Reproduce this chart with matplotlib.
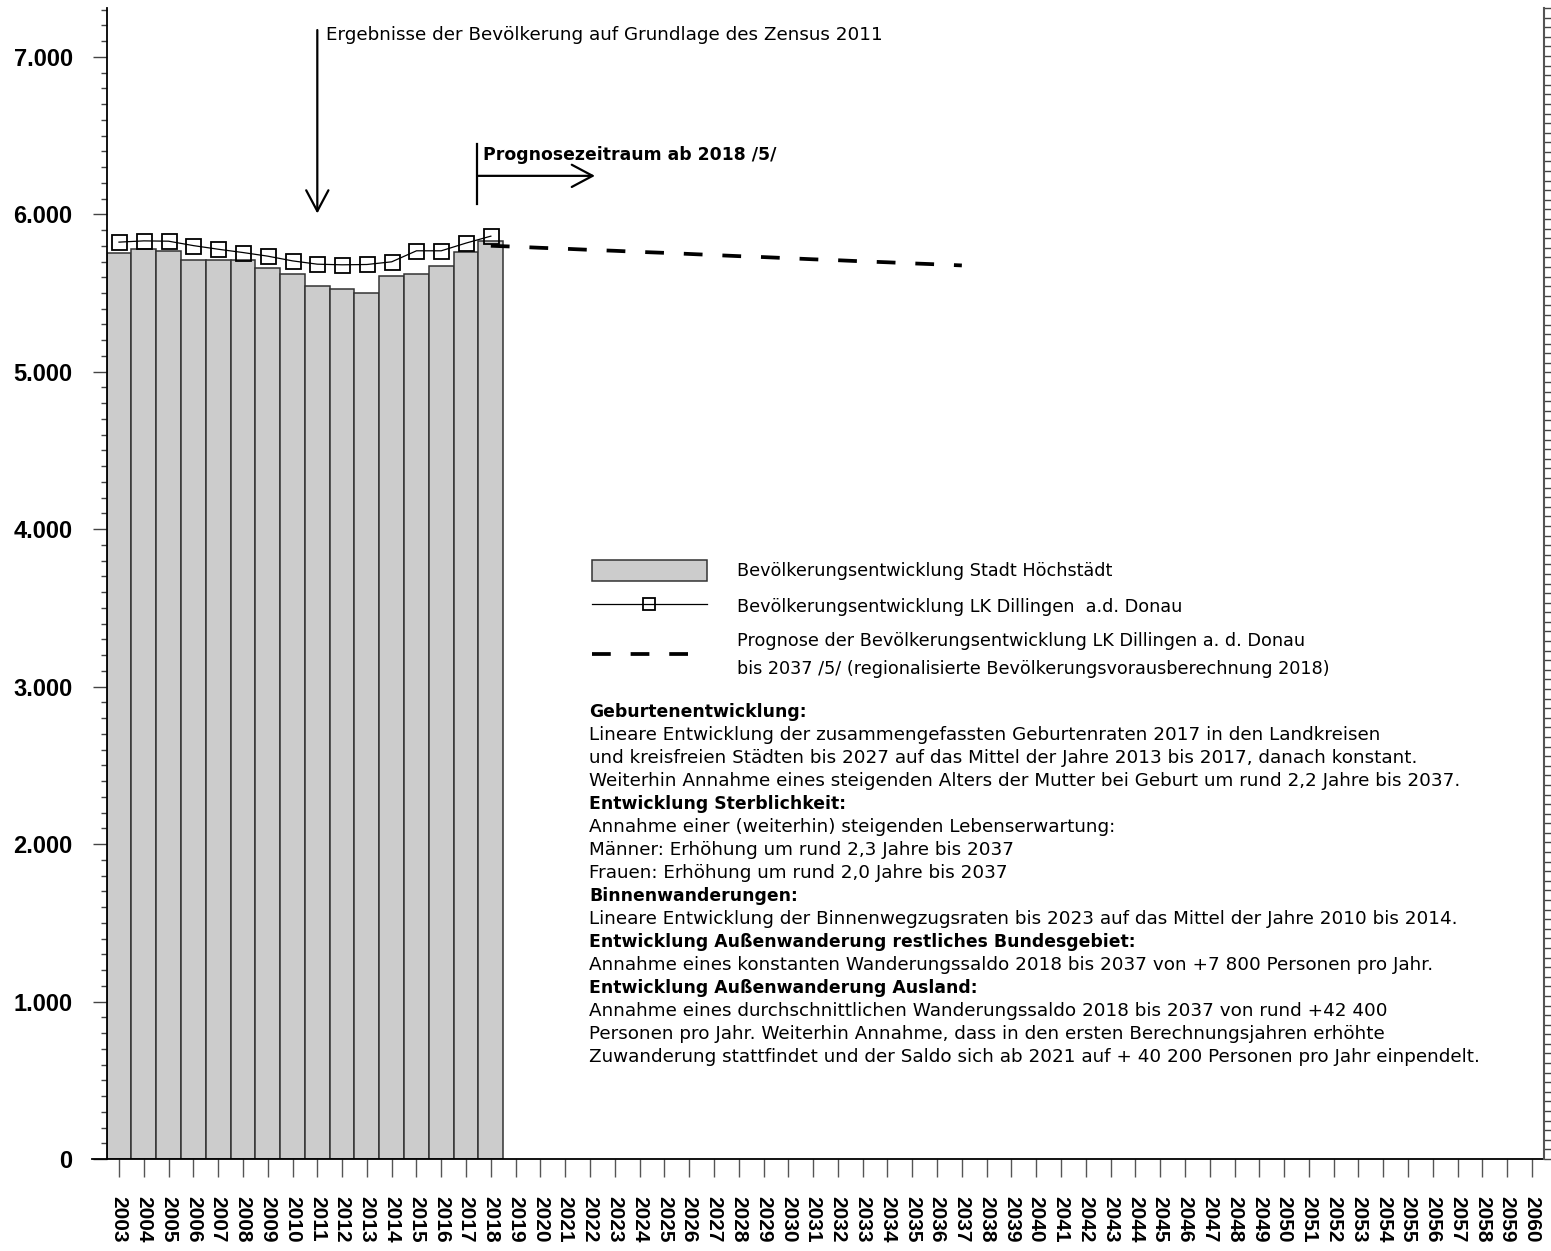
import matplotlib
matplotlib.use('Agg')
import matplotlib.pyplot as plt
import numpy as np

# Jahre auf der x-Achse
years = list(range(2003, 2061))

# Bevoelkerung Stadt Hoechstaedt (Balken) 2003-2018
obs_years = list(range(2003, 2019))
hoechstaedt = [5753, 5778, 5768, 5709, 5709, 5712, 5658, 5620,
               5547, 5524, 5501, 5611, 5620, 5671, 5763, 5831]

# LK Dillingen a.d. Donau (indexiert, Linie mit Quadraten)
lk_dillingen = [5823, 5831, 5829, 5801, 5778, 5757, 5734, 5704,
                5683, 5679, 5681, 5698, 5768, 5768, 5817, 5861]

# Prognose LK Dillingen 2018-2037 (gestrichelt)
prog_years = list(range(2018, 2038))
prognose = [5800, 5794, 5787, 5781, 5774, 5768, 5761, 5755, 5748, 5741,
            5734, 5728, 5721, 5714, 5708, 5701, 5695, 5688, 5682, 5675]

ytick_values = list(range(0, 8000, 1000))
ytick_labels = [f'{v:,}'.replace(',', '.') for v in ytick_values]

legend_labels = ['Bevölkerungsentwicklung Stadt Höchstädt',
                 'Bevölkerungsentwicklung LK Dillingen  a.d. Donau',
                 'Prognose der Bevölkerungsentwicklung LK Dillingen a. d. Donau\n'
                 'bis 2037 /5/ (regionalisierte Bevölkerungsvorausberechnung 2018)']

info_lines = [
    ('Geburtenentwicklung:', True),
    ('Lineare Entwicklung der zusammengefassten Geburtenraten 2017 in den Landkreisen', False),
    ('und kreisfreien Städten bis 2027 auf das Mittel der Jahre 2013 bis 2017, danach konstant.', False),
    ('Weiterhin Annahme eines steigenden Alters der Mutter bei Geburt um rund 2,2 Jahre bis 2037.', False),
    ('Entwicklung Sterblichkeit:', True),
    ('Annahme einer (weiterhin) steigenden Lebenserwartung:', False),
    ('Männer: Erhöhung um rund 2,3 Jahre bis 2037', False),
    ('Frauen: Erhöhung um rund 2,0 Jahre bis 2037', False),
    ('Binnenwanderungen:', True),
    ('Lineare Entwicklung der Binnenwegzugsraten bis 2023 auf das Mittel der Jahre 2010 bis 2014.', False),
    ('Entwicklung Außenwanderung restliches Bundesgebiet:', True),
    ('Annahme eines konstanten Wanderungssaldo 2018 bis 2037 von +7 800 Personen pro Jahr.', False),
    ('Entwicklung Außenwanderung Ausland:', True),
    ('Annahme eines durchschnittlichen Wanderungssaldo 2018 bis 2037 von rund +42 400', False),
    ('Personen pro Jahr. Weiterhin Annahme, dass in den ersten Berechnungsjahren erhöhte', False),
    ('Zuwanderung stattfindet und der Saldo sich ab 2021 auf + 40 200 Personen pro Jahr einpendelt.', False),
]

plt.rcParams['font.family'] = ['DejaVu Sans']

W, H = 1551, 1251
fig = plt.figure(figsize=(W / 100, H / 100), dpi=100)
ax = fig.add_axes([106.6 / W, 1 - 1159 / H, 1437.8 / W, 1151 / H])

idx = {y: i for i, y in enumerate(years)}
xo = [idx[y] for y in obs_years]
xp = [idx[y] for y in prog_years]

bars = ax.bar(xo, hoechstaedt, width=1.0, color='#cccccc',
              edgecolor='#333333', linewidth=1.1, zorder=2)
line, = ax.plot(xo, lk_dillingen, color='black', lw=0.9, marker='s', ms=10.8,
                mfc='none', mec='black', mew=1.3, zorder=3)
dash, = ax.plot(xp, prognose, color='black', lw=2.7, dashes=(5, 5.3), zorder=3)

ax.set_xlim(-0.5, len(years) - 0.5)
ax.set_ylim(0, 7310)

# Achsen
ax.set_xticks(range(len(years)))
ax.set_xticklabels([str(y) for y in years], rotation=270, fontfamily='Liberation Sans',
                   fontweight='bold', fontsize=15)
ax.tick_params(axis='x', length=13, width=1, color='#555555', pad=14)

ax.set_yticks(ytick_values)
ax.set_yticklabels(ytick_labels, fontfamily='Liberation Sans', fontweight='bold', fontsize=17)
ax.set_yticks(np.arange(0, 7301, 100), minor=True)
ax.tick_params(axis='y', which='major', length=10, width=1, color='#444444', pad=14.4)
ax.tick_params(axis='y', which='minor', length=4.3, width=1, color='#444444')

ax.spines['top'].set_visible(False)
ax.spines['right'].set_visible(False)
ax.spines['left'].set_linewidth(1.3)
ax.spines['bottom'].set_linewidth(1.3)
ax.spines['bottom'].set_bounds(-1.09, len(years) - 0.5)

ax2 = ax.twinx()
ax2.set_ylim(0, 120)
ax2.set_yticks(range(0, 121))
ax2.tick_params(axis='y', length=6, width=1, color='#444444', labelright=False)
for s in ['top', 'left', 'bottom']:
    ax2.spines[s].set_visible(False)
ax2.spines['right'].set_color('#555555')
ax2.spines['right'].set_linewidth(1.5)

# Pfeile und Hinweise
arrow = dict(arrowstyle='->,head_length=0.75,head_width=0.4', lw=1.6, color='black',
             mutation_scale=20, shrinkA=0, shrinkB=0)
ax.annotate('', xy=(idx[2011], 6005), xytext=(idx[2011], 7170), arrowprops=arrow)
ax.plot([14.45, 14.45], [6066, 6447], color='black', lw=1.6)
ax.annotate('', xy=(19.2, 6244), xytext=(14.5, 6244), arrowprops=arrow)


def ftext(x, y, s, **kw):
    fig.text(x / W, 1 - y / H, s, va='center', ha='left', **kw)


ftext(326, 35, 'Ergebnisse der Bevölkerung auf Grundlage des Zensus 2011', fontsize=13.2)
ftext(483, 155, 'Prognosezeitraum ab 2018 /5/', fontsize=12.4, fontweight='bold')

leg = ax.legend(handles=[bars, line, dash], labels=legend_labels, loc='upper left',
                bbox_to_anchor=(592 / W, 1 - 560 / H), bbox_transform=fig.transFigure,
                frameon=False, borderpad=0, borderaxespad=0, handlelength=6.5,
                handleheight=1.48, handletextpad=1.7, labelspacing=0.83, numpoints=1,
                prop={'family': 'DejaVu Sans', 'size': 12.7})
leg.legend_handles[1].set_markersize(8)
for t in leg.get_texts():
    t.set_linespacing(1.72)

y0, dy = 712, 23.0
for i, (s, bold) in enumerate(info_lines):
    if bold:
        ftext(589, y0 + i * dy, s, fontsize=12.4, fontweight='bold')
    else:
        ftext(589, y0 + i * dy, s, fontsize=13.2)

fig.savefig('out.png', dpi=100)
